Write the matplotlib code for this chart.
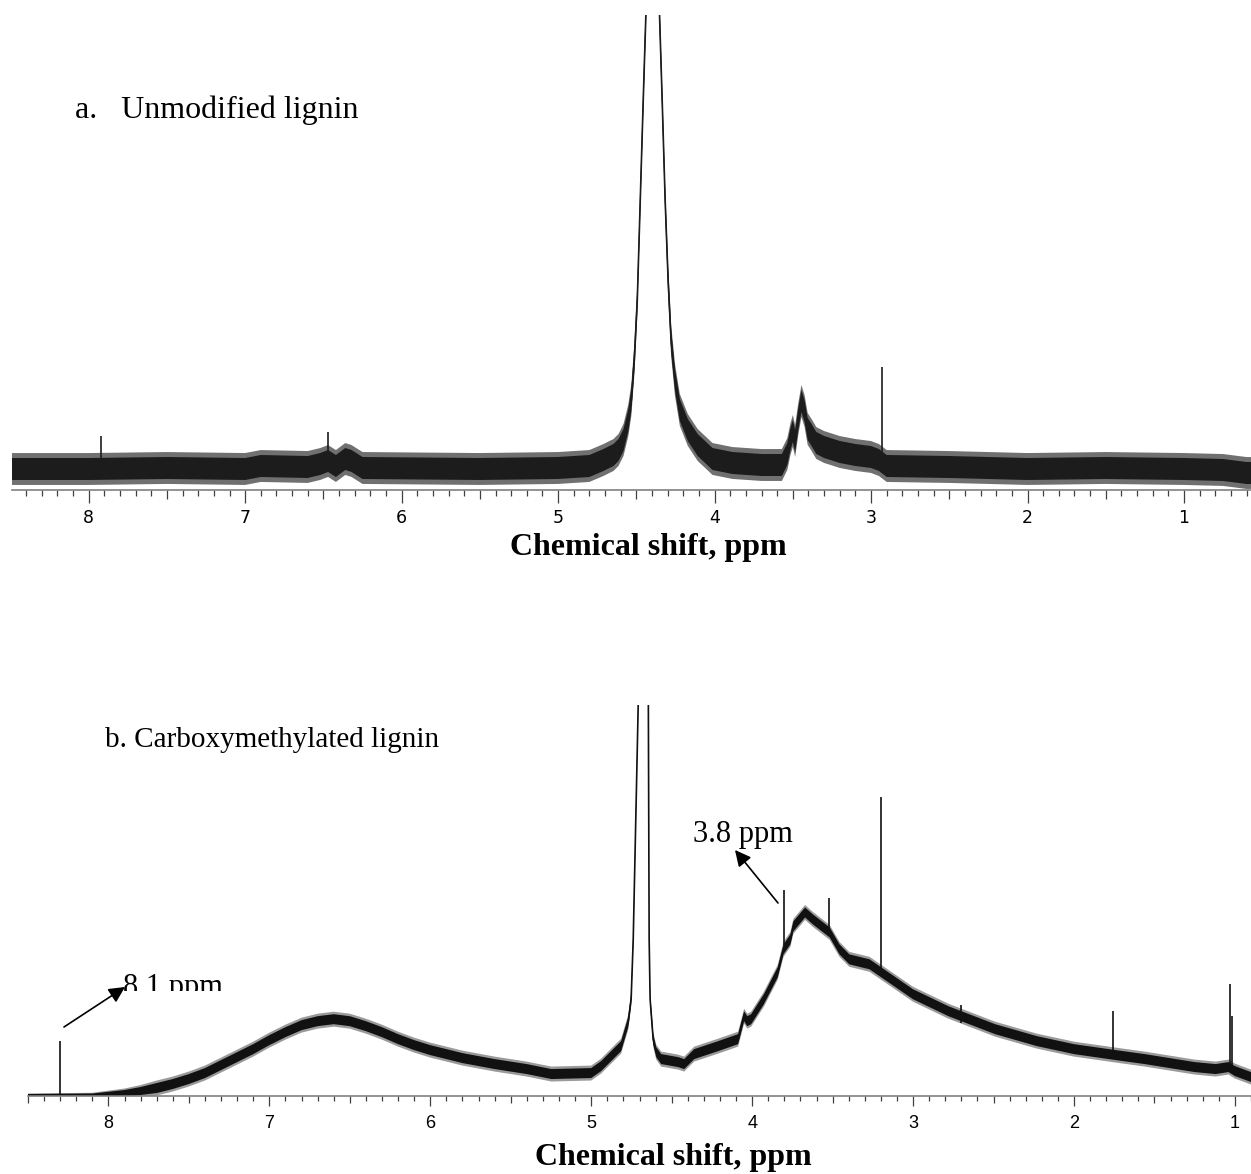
import numpy as np
import matplotlib.pyplot as plt
from matplotlib.patches import FancyArrowPatch, Rectangle
from matplotlib.ticker import FixedLocator, FuncFormatter, MultipleLocator

W, H = 1251, 1174

# ---- a. Unmodified lignin (intensity in arbitrary units, baseline = 0)
a_ppm = [8.49, 8.0, 7.5, 7.0, 6.9, 6.6, 6.52, 6.47, 6.42, 6.36, 6.32, 6.25, 5.5, 5.0,
         4.8, 4.71, 4.646, 4.614, 4.582, 4.551, 4.532, 4.513, 4.494, 4.475, 4.456,
         4.437, 4.395, 4.354, 4.335, 4.316, 4.297, 4.278, 4.253, 4.222, 4.171, 4.108,
         4.013, 3.886, 3.7, 3.57, 3.535, 3.515, 3.50, 3.485, 3.465, 3.445, 3.425,
         3.405, 3.38, 3.35, 3.3, 3.2, 3.1, 3.0, 2.95, 2.90, 2.5, 2.0, 1.5, 1.0, 0.75,
         0.6, 0.572]
a_int = [0, 0, 1, 0, 3, 2, 5, 8, 3, 10, 8, 1, 0, 1,
         3, 9, 14, 19, 29, 49, 69, 109, 169, 269, 369,
         465, 3000, 465, 369, 269, 189, 129, 89, 59, 39, 24,
         10, 6, 4, 4, 15, 30, 38, 28, 50, 68, 58,
         40, 34, 26, 22, 17, 14, 12, 9, 3, 2, 0, 1, 0, -1,
         -4, -4]
a_noise = 11
a_spike_ppm = [7.92, 6.47, 2.93]
a_spike_base = [0, 4, 10]
a_spike_top = [33, 37, 102]

# ---- b. Carboxymethylated lignin
b_ppm = [8.50, 8.1, 7.9, 7.8, 7.7, 7.6, 7.5, 7.4, 7.3, 7.2, 7.1, 7.0, 6.9, 6.8, 6.7,
         6.6, 6.5, 6.4, 6.3, 6.2, 6.1, 6.0, 5.8, 5.6, 5.4, 5.248, 5.0, 4.938, 4.814,
         4.770, 4.752, 4.739, 4.708, 4.675, 4.645, 4.640, 4.634, 4.615, 4.596, 4.565,
         4.460, 4.422, 4.360, 4.211, 4.087, 4.050, 4.030, 4.006, 3.927, 3.841, 3.805,
         3.762, 3.744, 3.671, 3.622, 3.518, 3.457, 3.396, 3.27, 3.18, 3.0, 2.78, 2.49,
         2.23, 2.0, 1.74, 1.56, 1.25, 1.12, 1.04, 1.0, 0.90]
b_int = [0, 0, 2, 4, 7, 11, 16, 22, 30, 38, 46, 55, 63, 70, 74,
         76, 74, 69, 63, 56, 50, 45, 37, 31, 26, 21, 22, 29, 49,
         73, 96, 156, 391, 3000, 391, 156, 96, 56, 43, 36,
         33, 31, 41, 49, 56, 79, 74, 76, 96, 123, 146,
         156, 169, 183, 176, 163, 146, 136, 131, 121, 101, 84, 66,
         54, 46, 40, 36, 28, 26, 28, 24, 18]
b_noise = [1, 1.5, 3, 4, 5, 5, 5, 5, 5, 5, 5, 5, 5, 5, 5,
           5, 5, 5, 5, 5, 5, 5, 5, 5, 5, 5, 5, 5, 5,
           5, 5, 5, 5, 5, 5, 5, 5, 5, 5, 5,
           5, 5, 5, 5, 5, 5, 5, 5, 5, 5, 5,
           5, 5, 5, 5, 5, 5, 5, 5, 5, 5, 5, 5,
           5, 5, 5, 5, 5, 5, 5, 5, 5]
b_spike_ppm = [8.30, 3.80, 3.52, 3.20, 2.70, 1.755, 1.03, 1.015]
b_spike_base = [0, 150, 162, 120, 72, 40, 28, 28]
b_spike_top = [54, 206, 198, 299, 90, 84, 111, 79]

plt.rcParams["font.family"] = ["Liberation Sans", "DejaVu Sans"]
fig = plt.figure(figsize=(W / 100, H / 100), dpi=100)


def px_axes(left, top, right, bottom):
    return fig.add_axes([left / W, 1 - bottom / H, (right - left) / W, (bottom - top) / H])


def style_axis(ax, xlim, ylim, font, fs, pad, major_len, mid_len, minor_len):
    ax.set_xlim(*xlim)
    ax.set_ylim(*ylim)
    for s in ["left", "right", "top"]:
        ax.spines[s].set_visible(False)
    ax.spines["bottom"].set_color("#808080")
    ax.spines["bottom"].set_linewidth(1.2)
    ax.set_yticks([])
    majors = np.arange(0.5, 9.0, 0.5)
    ax.xaxis.set_major_locator(FixedLocator(majors))
    ax.xaxis.set_major_formatter(FuncFormatter(
        lambda v, p: f"{v:.0f}" if abs(v - round(v)) < 1e-6 else ""))
    ax.xaxis.set_minor_locator(MultipleLocator(0.1))
    ax.tick_params(axis="x", which="both", direction="out", color="#404040",
                   width=0.9, labelsize=fs, pad=pad)
    ax.tick_params(axis="x", which="minor", length=minor_len)
    ax.tick_params(axis="x", which="major", length=major_len)
    for lab in ax.get_xticklabels():
        lab.set_family(font)
    for tick, v in zip(ax.xaxis.get_major_ticks(), majors):
        if abs(v - round(v)) > 1e-6:
            tick.tick1line.set_markersize(mid_len)


def draw_spectrum(ax, ppm, inten, noise, sp_ppm, sp_base, sp_top, color, fringe, k):
    ppm = np.asarray(ppm)
    inten = np.asarray(inten, dtype=float)
    noise = np.broadcast_to(np.asarray(noise, dtype=float), inten.shape)
    ax.fill_between(ppm, inten - k * noise, inten + k * noise, color=fringe, lw=0)
    ax.fill_between(ppm, inten - noise, inten + noise, color=color, lw=0)
    ax.plot(ppm, inten, color=color, lw=1.2)
    ax.vlines(sp_ppm, sp_base, sp_top, color=color, lw=1.2)


# panel a
ax1 = px_axes(12, 15, 1251, 490)
draw_spectrum(ax1, a_ppm, a_int, a_noise, a_spike_ppm, a_spike_base, a_spike_top,
              "#1c1c1c", "#707070", 1.45)
style_axis(ax1, (8.49, 0.572), (-21, 454), ["DejaVu Sans"], 12.5, 4, 9.5, 6.5, 4.5)

# panel b
ax2 = px_axes(28, 705, 1251, 1096)
draw_spectrum(ax2, b_ppm, b_int, b_noise, b_spike_ppm, b_spike_base, b_spike_top,
              "#111111", "#9a9a9a", 1.5)
style_axis(ax2, (8.5, 0.90), (-1, 391), ["Liberation Sans"], 13, 6, 7.5, 5, 3.5)

serif = ["Liberation Serif", "DejaVu Serif"]


def ftext(x, y, s, **kw):
    return fig.text(x / W, 1 - y / H, s, family=serif, **kw)


ftext(648, 547, "Chemical shift, ppm", fontsize=23, fontweight="bold", ha="center", va="center")
ftext(673, 1157, "Chemical shift, ppm", fontsize=23, fontweight="bold", ha="center", va="center")
ftext(75, 110, "a.   Unmodified lignin", fontsize=23, ha="left", va="center")
ftext(105, 740, "b. Carboxymethylated lignin", fontsize=21, ha="left", va="center")
ftext(693, 842, "3.8 ppm", fontsize=22, ha="left", va="baseline")
t81 = ftext(123, 995, "8.1 ppm", fontsize=22, ha="left", va="baseline")
clip = Rectangle((0, 1 - 991 / H), 1, 991 / H, transform=fig.transFigure, visible=False)
fig.add_artist(clip)
t81.set_clip_on(True)
t81.set_clip_path(clip)

arrow = dict(arrowstyle="-|>", color="black", lw=1.2, mutation_scale=24, shrinkA=0, shrinkB=0)
fig.add_artist(FancyArrowPatch((778 / W, 1 - 903 / H), (735 / W, 1 - 850 / H),
                               transform=fig.transFigure, **arrow))
fig.add_artist(FancyArrowPatch((64 / W, 1 - 1027 / H), (125 / W, 1 - 987 / H),
                               transform=fig.transFigure, **arrow))

fig.savefig("out.png", dpi=100)
